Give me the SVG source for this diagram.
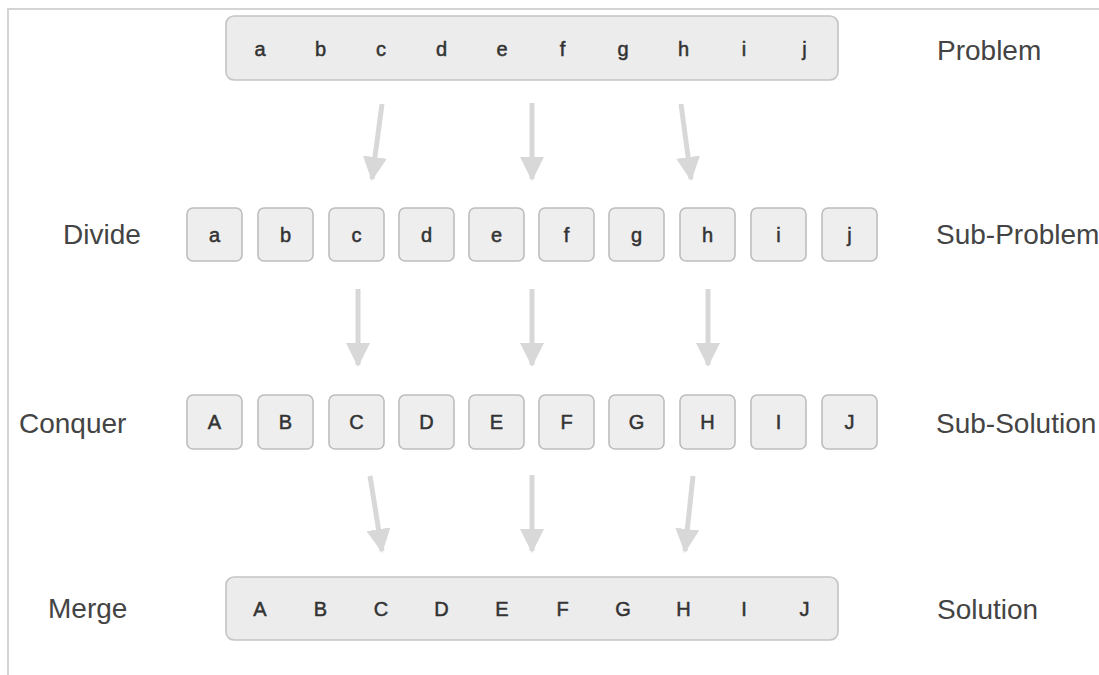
<svg xmlns="http://www.w3.org/2000/svg" width="1099" height="675" viewBox="0 0 1099 675">
  <style>
    .frame{stroke:#d4d4d4;stroke-width:2;fill:none}
    .big{fill:#ececec;stroke:#c4c4c4;stroke-width:1.6}
    .cell{fill:#eeeeee;stroke:#bdbdbd;stroke-width:1.6}
    .ch{font-family:"Liberation Sans",Arial,sans-serif;font-size:20px;fill:#333;stroke:#333;stroke-width:0.5;text-anchor:middle}
    .lbl{font-family:"Liberation Sans",Arial,sans-serif;font-size:28px;fill:#444}
    .arr{stroke:#d8d8d8;stroke-width:5;fill:none;marker-end:url(#head)}
  </style>
  <defs>
    <marker id="head" markerUnits="userSpaceOnUse" markerWidth="24" markerHeight="24" refX="22" refY="12" orient="auto">
      <path d="M0,0 L24,12 L0,24 Z" fill="#d8d8d8"/>
    </marker>
  </defs>
  <rect width="1099" height="675" fill="#ffffff"/>
  <path class="frame" d="M8,675 L8,9 L1099,9"/>

  <g id="labels">
    <text class="lbl" x="937" y="60">Problem</text>
    <text class="lbl" x="63" y="244">Divide</text>
    <text class="lbl" x="936" y="244">Sub-Problem</text>
    <text class="lbl" x="19" y="433">Conquer</text>
    <text class="lbl" x="936" y="433">Sub-Solution</text>
    <text class="lbl" x="48" y="618">Merge</text>
    <text class="lbl" x="937" y="619">Solution</text>
  </g>

  <g id="problem">
    <rect class="big" x="226" y="16" width="612" height="64" rx="8"/>
    <text class="ch" x="260" y="56">a</text>
    <text class="ch" x="320.5" y="56">b</text>
    <text class="ch" x="381" y="56">c</text>
    <text class="ch" x="441.5" y="56">d</text>
    <text class="ch" x="502" y="56">e</text>
    <text class="ch" x="562.5" y="56">f</text>
    <text class="ch" x="623" y="56">g</text>
    <text class="ch" x="683.5" y="56">h</text>
    <text class="ch" x="744" y="56">i</text>
    <text class="ch" x="804.5" y="56">j</text>
  </g>

  <g id="subproblems">
    <g id="sp-a"><rect class="cell" x="187" y="208" width="55" height="53" rx="6"/><text class="ch" x="214.5" y="242">a</text></g>
    <g id="sp-b"><rect class="cell" x="258" y="208" width="55" height="53" rx="6"/><text class="ch" x="285.5" y="242">b</text></g>
    <g id="sp-c"><rect class="cell" x="329" y="208" width="55" height="53" rx="6"/><text class="ch" x="356.5" y="242">c</text></g>
    <g id="sp-d"><rect class="cell" x="399" y="208" width="55" height="53" rx="6"/><text class="ch" x="426.5" y="242">d</text></g>
    <g id="sp-e"><rect class="cell" x="469" y="208" width="55" height="53" rx="6"/><text class="ch" x="496.5" y="242">e</text></g>
    <g id="sp-f"><rect class="cell" x="539" y="208" width="55" height="53" rx="6"/><text class="ch" x="566.5" y="242">f</text></g>
    <g id="sp-g"><rect class="cell" x="609" y="208" width="55" height="53" rx="6"/><text class="ch" x="636.5" y="242">g</text></g>
    <g id="sp-h"><rect class="cell" x="680" y="208" width="55" height="53" rx="6"/><text class="ch" x="707.5" y="242">h</text></g>
    <g id="sp-i"><rect class="cell" x="751" y="208" width="55" height="53" rx="6"/><text class="ch" x="778.5" y="242">i</text></g>
    <g id="sp-j"><rect class="cell" x="822" y="208" width="55" height="53" rx="6"/><text class="ch" x="849.5" y="242">j</text></g>
  </g>

  <g id="subsolutions">
    <g id="ss-A"><rect class="cell" x="187" y="395" width="55" height="54" rx="6"/><text class="ch" x="214.5" y="429">A</text></g>
    <g id="ss-B"><rect class="cell" x="258" y="395" width="55" height="54" rx="6"/><text class="ch" x="285.5" y="429">B</text></g>
    <g id="ss-C"><rect class="cell" x="329" y="395" width="55" height="54" rx="6"/><text class="ch" x="356.5" y="429">C</text></g>
    <g id="ss-D"><rect class="cell" x="399" y="395" width="55" height="54" rx="6"/><text class="ch" x="426.5" y="429">D</text></g>
    <g id="ss-E"><rect class="cell" x="469" y="395" width="55" height="54" rx="6"/><text class="ch" x="496.5" y="429">E</text></g>
    <g id="ss-F"><rect class="cell" x="539" y="395" width="55" height="54" rx="6"/><text class="ch" x="566.5" y="429">F</text></g>
    <g id="ss-G"><rect class="cell" x="609" y="395" width="55" height="54" rx="6"/><text class="ch" x="636.5" y="429">G</text></g>
    <g id="ss-H"><rect class="cell" x="680" y="395" width="55" height="54" rx="6"/><text class="ch" x="707.5" y="429">H</text></g>
    <g id="ss-I"><rect class="cell" x="751" y="395" width="55" height="54" rx="6"/><text class="ch" x="778.5" y="429">I</text></g>
    <g id="ss-J"><rect class="cell" x="822" y="395" width="55" height="54" rx="6"/><text class="ch" x="849.5" y="429">J</text></g>
  </g>

  <g id="solution">
    <rect class="big" x="226" y="577" width="612" height="63" rx="8"/>
    <text class="ch" x="260" y="616">A</text>
    <text class="ch" x="320.5" y="616">B</text>
    <text class="ch" x="381" y="616">C</text>
    <text class="ch" x="441.5" y="616">D</text>
    <text class="ch" x="502" y="616">E</text>
    <text class="ch" x="562.5" y="616">F</text>
    <text class="ch" x="623" y="616">G</text>
    <text class="ch" x="683.5" y="616">H</text>
    <text class="ch" x="744" y="616">I</text>
    <text class="ch" x="804.5" y="616">J</text>
  </g>

  <g id="connectors">
    <line class="arr" x1="382" y1="104" x2="372" y2="179"/>
    <line class="arr" x1="532" y1="103" x2="532" y2="179"/>
    <line class="arr" x1="681" y1="104" x2="691" y2="179"/>
    <line class="arr" x1="358" y1="289" x2="358" y2="365"/>
    <line class="arr" x1="532" y1="289" x2="532" y2="365"/>
    <line class="arr" x1="708" y1="289" x2="708" y2="365"/>
    <line class="arr" x1="370" y1="476" x2="382" y2="551"/>
    <line class="arr" x1="532" y1="475" x2="532" y2="551"/>
    <line class="arr" x1="693" y1="476" x2="685" y2="551"/>
  </g>
</svg>
